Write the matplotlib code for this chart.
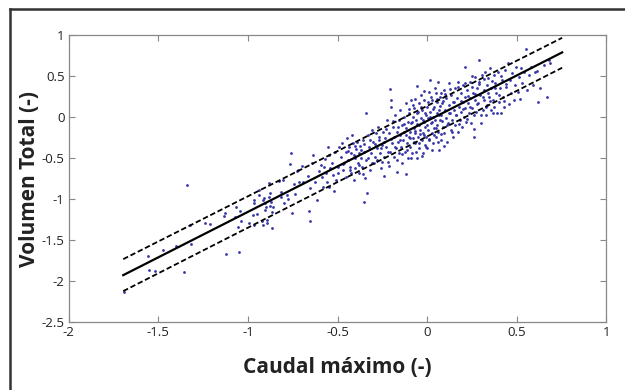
import matplotlib
matplotlib.use("Agg")
import matplotlib.pyplot as plt
from matplotlib.lines import Line2D

# Scatter data
x_pts = [
 -1.692,-1.558,-1.551,-1.516,-1.474,-1.402,-1.359,-1.340,-1.326,-1.320,-1.240,-1.209,-1.131,-1.127,-1.121,
 -1.065,-1.071,-1.054,-1.052,-1.043,-1.039,-0.993,-0.974,-0.965,-0.965,-0.965,-0.950,-0.937,-0.936,-0.922,
 -0.917,-0.915,-0.909,-0.903,-0.902,-0.898,-0.894,-0.892,-0.883,-0.881,-0.877,-0.876,-0.870,-0.866,-0.863,
 -0.860,-0.827,-0.816,-0.814,-0.803,-0.796,-0.782,-0.775,-0.762,-0.764,-0.755,-0.742,-0.736,-0.723,-0.716,
 -0.725,-0.699,-0.692,-0.665,-0.656,-0.652,-0.660,-0.641,-0.634,-0.625,-0.614,-0.603,-0.594,-0.589,-0.580,
 -0.576,-0.569,-0.562,-0.558,-0.554,-0.547,-0.547,-0.540,-0.531,-0.525,-0.518,-0.513,-0.507,-0.500,-0.496,
 -0.491,
 -0.480,-0.473,-0.469,-0.462,-0.455,-0.451,-0.446,-0.442,-0.435,-0.431,-0.424,-0.424,-0.417,-0.413,-0.408,
 -0.404,-0.402,-0.395,-0.390,-0.386,-0.382,-0.379,-0.373,-0.368,-0.362,-0.357,-0.353,-0.353,-0.346,-0.339,
 -0.339,-0.335,-0.330,-0.324,-0.319,-0.313,-0.308,-0.301,-0.297,-0.290,-0.283,-0.279,
 -0.272,-0.268,-0.263,-0.257,-0.252,-0.246,-0.241,-0.239,-0.234,-0.228,-0.223,-0.219,-0.212,-0.208,-0.205,
 -0.201,-0.199,-0.196,-0.190,-0.185,-0.183,-0.179,-0.174,-0.170,-0.167,-0.163,-0.158,-0.156,-0.152,-0.150,
 -0.145,-0.141,-0.138,-0.134,-0.129,-0.127,-0.123,-0.118,-0.116,-0.116,-0.112,-0.109,-0.107,-0.103,-0.100,
 -0.096,-0.094,-0.089,-0.087,-0.085,-0.080,-0.078,-0.074,-0.071,-0.067,-0.065,-0.060,-0.058,-0.058,-0.054,
 -0.050,-0.047,-0.045,-0.045,-0.038,-0.036,-0.033,-0.029,-0.027,-0.025,-0.022,-0.018,-0.016,-0.013,-0.009,
 -0.007,-0.004,0.000,0.002,0.004,0.007,0.011,0.013,0.018,0.018,0.022,0.025,0.029,0.031,0.033,
 0.038,0.040,0.045,0.047,0.049,0.054,0.056,0.058,0.063,0.063,0.067,0.067,0.071,0.074,0.076,
 0.080,0.085,0.089,0.094,0.096,0.100,0.105,0.107,0.112,0.116,0.121,0.123,0.127,0.132,0.134,
 0.138,0.143,0.147,0.152,0.156,0.158,0.163,0.167,0.172,0.174,0.179,0.183,0.188,0.190,0.194,
 0.199,0.203,0.205,0.210,0.214,0.214,0.219,0.223,0.228,0.232,0.237,0.241,0.246,0.250,0.252,
 0.257,0.261,0.263,0.268,0.270,0.275,0.279,
 0.286,0.290,0.290,0.297,0.301,0.306,0.310,0.315,0.319,0.324,0.328,0.333,0.337,0.342,0.346,
 0.350,0.355,0.359,0.366,0.371,0.375,0.379,0.384,0.391,0.397,0.402,0.408,0.413,0.420,0.424,
 0.431,0.435,0.442,0.451,0.458,0.462,0.469,0.475,0.484,0.491,0.498,0.507,0.513,0.520,0.525,
 0.531,0.540,0.554,0.558,0.569,0.580,0.592,0.603,0.614,0.621,0.629,0.652,0.670,0.681,0.688,
]
y_pts = [
 -2.130,-1.695,-1.870,-1.878,-1.620,-1.573,-1.890,-0.829,-1.313,-1.553,-1.289,-1.305,-1.203,-1.167,-1.671,
 -1.094,-1.216,-1.338,-1.643,-1.146,-1.264,-1.289,-1.195,-1.012,-1.053,-1.317,-1.187,-0.890,-0.951,-1.268,
 -1.012,-1.317,-0.984,-1.053,-1.134,-1.094,-1.256,-1.289,-0.809,-0.972,-0.923,-1.085,-1.030,-1.155,-1.350,
 -1.090,-0.777,-0.911,-0.972,-0.768,-1.045,-0.951,-1.000,-0.435,-0.577,-1.167,-0.817,-0.939,-0.646,-0.789,
 -0.654,-0.593,-0.797,-0.720,-0.870,-1.264,-1.140,-0.565,-0.467,-0.789,-1.012,-0.659,-0.585,-0.736,-0.850,
 -0.606,-0.516,-0.687,-0.789,-0.362,-0.463,-0.850,-0.626,-0.557,-0.707,-0.898,-0.423,-0.768,-0.606,-0.679,
 -0.362,
 -0.484,-0.321,-0.646,-0.565,-0.423,-0.728,-0.260,-0.524,-0.362,-0.606,-0.443,-0.687,-0.220,-0.321,-0.768,
 -0.504,-0.626,-0.394,-0.301,-0.565,-0.687,-0.443,-0.354,-0.504,-0.606,-0.280,-0.423,-1.040,-0.748,0.045,
 -0.524,-0.930,-0.220,-0.362,-0.646,-0.443,-0.159,-0.301,-0.565,-0.484,-0.199,-0.382,
 -0.118,-0.280,-0.443,-0.626,-0.341,-0.179,-0.720,-0.484,-0.260,-0.362,-0.037,-0.545,-0.199,0.337,-0.423,
 0.207,0.126,-0.321,-0.118,-0.240,-0.484,0.024,-0.382,-0.179,-0.667,-0.301,-0.037,-0.443,0.085,-0.220,
 -0.362,-0.098,-0.565,-0.280,0.004,-0.179,-0.423,0.167,-0.699,-0.138,-0.321,-0.057,-0.504,-0.240,0.045,
 -0.179,-0.362,-0.077,0.207,-0.443,-0.260,0.004,-0.138,0.106,-0.321,-0.199,-0.037,0.378,-0.504,0.045,
 -0.240,-0.098,0.167,-0.382,-0.159,0.268,-0.016,-0.280,0.085,-0.443,-0.199,-0.057,0.207,-0.341,-0.118,
 0.024,-0.240,0.126,-0.382,-0.159,-0.016,0.309,-0.280,0.451,0.065,-0.077,-0.199,0.207,0.004,-0.321,
 -0.138,0.126,-0.037,0.289,-0.240,0.045,-0.098,0.187,0.427,-0.179,-0.400,0.085,-0.037,0.248,-0.280,
 0.024,0.167,-0.118,0.329,-0.199,0.085,-0.016,0.228,-0.301,-0.077,0.146,0.410,0.045,-0.159,0.268,
 -0.037,0.187,-0.240,0.085,0.350,-0.098,0.024,0.228,-0.179,0.431,0.126,-0.037,0.289,0.065,-0.118,
 0.187,0.390,0.004,0.248,0.614,0.106,-0.057,0.329,0.167,0.045,0.431,0.228,-0.077,0.370,0.106,
 0.289,0.024,-0.240,0.492,0.207,0.065,0.350,
 0.167,0.695,0.431,0.268,-0.077,0.512,0.085,0.329,0.207,0.553,0.024,0.390,0.146,0.472,0.248,
 0.593,0.085,0.350,0.207,0.512,0.126,0.410,0.289,0.045,0.553,0.187,0.350,0.053,0.451,0.248,
 0.126,0.573,0.370,0.663,0.159,0.451,0.289,0.533,0.207,0.390,0.614,0.309,0.492,0.215,0.593,
 0.410,0.553,0.829,0.329,0.512,0.614,0.390,0.553,0.565,0.179,0.350,0.634,0.248,0.695,0.654,
]

# additional points read in the dense central cluster
x_pts2 = [
 -0.47,-0.44,-0.43,-0.41,-0.40,-0.38,-0.37,-0.36,-0.35,-0.33,-0.32,-0.31,
 -0.29,-0.28,-0.27,-0.26,-0.25,-0.24,-0.23,-0.22,-0.21,-0.20,-0.19,-0.18,-0.17,-0.16,-0.15,-0.14,-0.13,-0.12,-0.11,-0.10,
 -0.095,-0.09,-0.085,-0.08,-0.075,-0.07,-0.065,-0.06,-0.055,-0.05,-0.045,-0.04,-0.035,-0.03,-0.025,-0.02,-0.015,-0.01,-0.005,
 0.0,0.005,0.01,0.015,0.02,0.025,0.03,0.035,0.04,0.045,0.05,0.055,0.06,0.065,0.07,0.075,0.08,0.085,0.09,0.095,
 0.10,0.11,0.12,0.13,0.14,0.15,0.16,0.17,0.18,0.19,0.20,0.21,0.22,0.23,0.24,0.25,0.26,0.27,0.28,0.29,
 0.30,0.31,0.32,0.33,0.34,0.35,0.36,0.37,0.38,0.40,0.41,0.43,0.44,
]
y_pts2 = [
 -0.57,-0.41,-0.65,-0.46,-0.35,-0.58,-0.40,-0.69,-0.33,-0.50,-0.28,-0.56,
 -0.33,-0.52,-0.24,-0.38,-0.55,-0.30,-0.15,-0.42,-0.60,-0.27,-0.05,-0.36,-0.52,-0.12,-0.28,-0.45,-0.09,-0.22,-0.40,0.10,
 -0.25,-0.50,-0.06,0.15,-0.30,-0.17,0.22,-0.42,-0.08,0.06,-0.32,-0.20,0.12,-0.48,-0.03,0.32,-0.22,0.05,-0.36,
 -0.10,0.18,-0.27,0.00,0.25,-0.40,-0.06,0.10,-0.22,0.36,-0.13,0.22,-0.30,0.02,0.13,-0.20,0.30,-0.05,0.20,-0.35,
 0.28,-0.10,0.05,0.34,-0.18,0.18,0.03,0.37,-0.08,0.20,0.10,0.42,-0.02,0.26,0.12,0.50,-0.14,0.28,0.16,0.40,
 0.02,0.24,0.46,0.12,0.30,0.20,0.44,0.05,0.36,0.27,0.50,0.20,0.40,
]

# Fitted line and band
fit_x = [-1.696, 0.754]
fit_mid = [-1.927, 0.789]
fit_up = [-1.732, 0.967]
fit_lo = [-2.122, 0.602]

x_ticks = [-2, -1.5, -1, -0.5, 0, 0.5, 1]
y_ticks = [-2.5, -2, -1.5, -1, -0.5, 0, 0.5, 1]

plt.rcParams['font.family'] = ['Open Sans', 'DejaVu Sans']

fig = plt.figure(figsize=(6.25, 3.9), dpi=100)
ax = fig.add_axes([0.110, 0.174, 0.860, 0.736])

dot = '#3535a8'
ax.plot(x_pts + x_pts2, y_pts + y_pts2, linestyle='none', marker='o', markersize=2.0,
        markerfacecolor=dot, markeredgecolor=dot, markeredgewidth=0)
ax.plot(fit_x, fit_mid, color='black', lw=1.6)
ax.plot(fit_x, fit_up, color='black', lw=1.3, linestyle=(0, (3, 1.5)))
ax.plot(fit_x, fit_lo, color='black', lw=1.3, linestyle=(0, (3, 1.5)))

ax.set_xlim(-2, 1)
ax.set_ylim(-2.5, 1)
ax.set_xticks(x_ticks)
ax.set_yticks(y_ticks)
ax.set_xticklabels(["%g" % v for v in x_ticks])
ax.set_yticklabels(["%g" % v for v in y_ticks])
ax.tick_params(direction='in', length=4, width=0.8, color='#888888',
               top=True, right=True, labelsize=9.5, labelcolor='#222222', pad=3)
for s in ax.spines.values():
    s.set_color('#888888')
    s.set_linewidth(0.9)

ax.set_xlabel('Caudal máximo (-)', fontsize=15, fontweight='bold', color='#222222', labelpad=13)
ax.set_ylabel('Volumen Total (-)', fontsize=15, fontweight='bold', color='#222222', labelpad=1)

# outer frame (top and left edges)
fig.add_artist(Line2D([10/625, 10/625], [0, 1 - 9/390], transform=fig.transFigure, color='#333333', lw=1.8))
fig.add_artist(Line2D([10/625, 1], [1 - 9/390, 1 - 9/390], transform=fig.transFigure, color='#333333', lw=1.8))

fig.savefig('out.png', dpi=100)
